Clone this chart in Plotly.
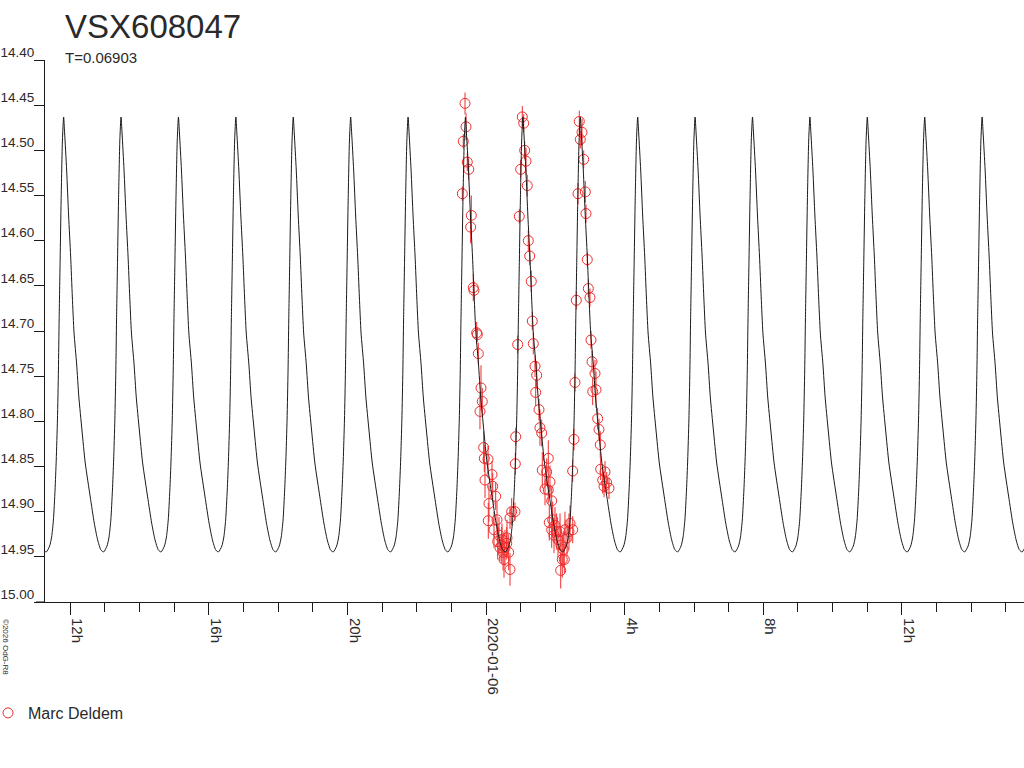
import pandas as pd
import plotly.graph_objects as go

# ---------------- data ----------------
star_name = "VSX608047"
period_days = 0.06903
# epoch of a maximum of the model curve
epoch_max = "2020-01-06 04:22:30"

# model light-curve template: phase (relative to maximum) and magnitude
tmpl_phase = [-0.3031, -0.2439, -0.2091, -0.1777, -0.1498, -0.1289, -0.1080, -0.0906,
              -0.0784, -0.0610, -0.0436, -0.0209, 0.0,
              0.0174, 0.0523, 0.0871, 0.1220, 0.1516, 0.1812, 0.2265, 0.2648,
              0.3188, 0.3763, 0.4634, 0.5331, 0.5923, 0.6498]
tmpl_mag = [14.9446, 14.9380, 14.9280, 14.9092, 14.8760, 14.8428, 14.7985, 14.7431,
            14.6878, 14.6214, 14.5550, 14.4886, 14.4631,
            14.4808, 14.5218, 14.5727, 14.6170, 14.6623, 14.7022, 14.7365, 14.7730,
            14.8096, 14.8461, 14.8837, 14.9125, 14.9313, 14.9424]
cycles = list(range(-11, 9))

# observations (Marc Deldem): minutes after 2020-01-06 00:00, magnitude, error
obs_minutes = [-36.5, -34.8, -39.5, -32.6, -30.1, -41.2, -25.6, -26.7, -22.2, -21.0,
               -16.3, -15.2, -13.5, -8.8, -6.6, -10.6, -4.2, -3.1, 3.3, -1.9,
               10.2, 11.4, 16.6, 5.0, 3.8, 13.7, 20.1, 27.0, 35.7, 39.1,
               41.4, 44.3, 50.0, 41.4, 51.3, 50.6, 54.7, 18.9, 22.3, 27.5,
               29.3, 32.7, 36.2, 24.1, 31.0,
               62.7, 65.1, 66.8, 69.1, 59.9, 71.3, 57.5, 73.1, 75.5, 78.3,
               80.0, 81.7, 84.7, 87.6, 85.9, 91.6, 93.3, 96.3, 107.7, 97.3,
               104.9, 110.6, 102.0, 107.7, 113.6, 109.4, 115.3, 119.3, 113.6, 122.2,
               128.0, 136.6, 145.3, 150.0, 133.7, 131.9, 135.4, 129.2, 124.5, 140.1,
               117.6, 129.7, 143.5,
               153.9, 152.2, 149.9, 156.2, 159.1,
               161.4, 166.1, 163.1, 169.0, 171.8, 173.0, 175.2, 177.0, 179.9, 181.6,
               183.4, 188.6, 190.3, 184.6, 193.2, 195.5, 197.7, 198.4, 205.9, 201.9,
               208.8, 212.8, 204.2]
obs_mag = [14.448, 14.474, 14.490, 14.513, 14.521, 14.548, 14.572, 14.585, 14.652, 14.655,
           14.702, 14.704, 14.725, 14.763, 14.778, 14.789, 14.829, 14.841, 14.842, 14.865,
           14.859, 14.872, 14.883, 14.891, 14.910, 14.920, 14.933, 14.937, 14.935, 14.945,
           14.964, 14.900, 14.900, 14.907, 14.817, 14.847, 14.715, 14.909, 14.926, 14.931,
           14.945, 14.940, 14.929, 14.940, 14.953,
           14.463, 14.470, 14.500, 14.512, 14.521, 14.539, 14.573, 14.600, 14.617, 14.645,
           14.689, 14.714, 14.739, 14.749, 14.768, 14.787, 14.807, 14.813, 14.841, 14.854,
           14.856, 14.867, 14.875, 14.876, 14.888, 14.912, 14.909, 14.915, 14.920, 14.922,
           14.922, 14.920, 14.913, 14.920, 14.942, 14.953, 14.953, 14.965, 14.931, 14.929,
           14.926, 14.937, 14.922,
           14.757, 14.820, 14.855, 14.666, 14.548,
           14.468, 14.480, 14.488, 14.510, 14.546, 14.570, 14.621, 14.653, 14.663, 14.710,
           14.734, 14.747, 14.765, 14.767, 14.797, 14.809, 14.826, 14.853, 14.856, 14.865,
           14.868, 14.874, 14.872]
obs_err = [0.012, 0.015, 0.008, 0.010, 0.012, 0.008, 0.022, 0.018, 0.015, 0.010,
           0.012, 0.008, 0.012, 0.025, 0.015, 0.020, 0.018, 0.015, 0.015, 0.020,
           0.015, 0.015, 0.015, 0.020, 0.020, 0.020, 0.020, 0.020, 0.018, 0.020,
           0.018, 0.015, 0.010, 0.012, 0.010, 0.012, 0.010, 0.020, 0.020, 0.018,
           0.020, 0.020, 0.020, 0.015, 0.020,
           0.012, 0.010, 0.010, 0.015, 0.010, 0.012, 0.008, 0.012, 0.010, 0.012,
           0.010, 0.012, 0.012, 0.015, 0.015, 0.012, 0.020, 0.015, 0.020, 0.020,
           0.015, 0.018, 0.018, 0.015, 0.015, 0.020, 0.020, 0.020, 0.020, 0.020,
           0.020, 0.020, 0.020, 0.015, 0.020, 0.020, 0.015, 0.020, 0.020, 0.020,
           0.020, 0.020, 0.020,
           0.010, 0.012, 0.012, 0.010, 0.012,
           0.012, 0.015, 0.010, 0.010, 0.012, 0.010, 0.008, 0.010, 0.010, 0.010,
           0.012, 0.015, 0.020, 0.015, 0.012, 0.012, 0.015, 0.012, 0.012, 0.015,
           0.012, 0.012, 0.012]

tick_vals = ["2020-01-05 12:00", "2020-01-05 16:00", "2020-01-05 20:00", "2020-01-06 00:00",
             "2020-01-06 04:00", "2020-01-06 08:00", "2020-01-06 12:00"]
tick_text = ["12h", "16h", "20h", "2020-01-06", "4h", "8h", "12h"]
y_tick_vals = [14.40, 14.45, 14.50, 14.55, 14.60, 14.65, 14.70, 14.75, 14.80, 14.85, 14.90, 14.95, 15.00]
x_range = ["2020-01-05 11:16:12", "2020-01-06 15:31:26"]
y_range = [15.00, 14.40]

# ---------------- build ----------------
t0 = pd.Timestamp(epoch_max)
per = pd.Timedelta(days=period_days)
model_t, model_m = [], []
for n in cycles:
    for p, m in zip(tmpl_phase, tmpl_mag):
        model_t.append(t0 + (n + p) * per)
        model_m.append(m)

obs_t = pd.Timestamp("2020-01-06") + pd.to_timedelta(obs_minutes, unit="m")

RED = "#f02c2c"
FONT = "Liberation Sans, Arial, sans-serif"
TXT = "#2a2a2a"

fig = go.Figure()
fig.add_trace(go.Scatter(
    x=obs_t, y=obs_mag, mode="markers", name="Marc Deldem",
    marker=dict(symbol="circle-open", size=10, color=RED, line=dict(width=1, color=RED)),
    error_y=dict(type="data", array=obs_err, color=RED, thickness=1, width=0),
))
fig.add_trace(go.Scatter(
    x=model_t, y=model_m, mode="lines", showlegend=False,
    line=dict(color="#1a1a1a", width=1, shape="spline", smoothing=0.6),
    hoverinfo="skip",
))

fig.update_layout(
    width=1024, height=768,
    margin=dict(l=45, r=0, t=60, b=166, autoexpand=False),
    paper_bgcolor="white", plot_bgcolor="white",
    font=dict(family=FONT, color=TXT, size=15),
    showlegend=True,
    legend=dict(x=-0.0582, y=-0.2048, xanchor="left", yanchor="middle",
                font=dict(size=16, family=FONT, color=TXT),
                bgcolor="rgba(0,0,0,0)", itemwidth=30),
    xaxis=dict(
        type="date", range=x_range, tickmode="array", tickvals=tick_vals, ticktext=tick_text,
        tickangle=90, ticks="outside", ticklen=12, tickwidth=1, tickcolor="#1a1a1a",
        showline=True, linecolor="#1a1a1a", linewidth=1, showgrid=False, zeroline=False,
        automargin=False,
        tickfont=dict(size=15, family=FONT, color=TXT), ticklabelshift=7,
        minor=dict(ticks="outside", ticklen=9, tickwidth=1, tickcolor="#1a1a1a",
                   dtick=3600000, tick0="2020-01-05 00:00", showgrid=False),
    ),
    yaxis=dict(
        range=y_range, tickmode="array", tickvals=y_tick_vals,
        ticktext=[f"{v:.2f}" for v in y_tick_vals],
        ticks="outside", ticklen=10, tickwidth=1, tickcolor="#1a1a1a",
        showline=True, linecolor="#1a1a1a", linewidth=1, showgrid=False, zeroline=False,
        automargin=False,
        tickfont=dict(size=13.5, family=FONT, color=TXT), ticklabelshift=8, ticklabelstandoff=-3,
    ),
    annotations=[
        dict(text=star_name, xref="paper", yref="paper", x=0.0184, y=1.062,
             xanchor="left", yanchor="middle", showarrow=False,
             font=dict(size=33, family=FONT, color=TXT)),
        dict(text="T=0.06903", xref="paper", yref="paper", x=0.0184, y=1.0046,
             xanchor="left", yanchor="middle", showarrow=False,
             font=dict(size=15, family=FONT, color=TXT)),
        dict(text="©2026 OdG-R8", xref="paper", yref="paper", x=-0.0409, y=-0.083,
             xanchor="center", yanchor="middle", showarrow=False, textangle=90,
             font=dict(size=8, family=FONT, color=TXT)),
    ],
    shapes=[
        dict(type="line", xref="paper", yref="paper", x0=-0.0092, x1=0, y0=0, y1=0,
             line=dict(color="#1a1a1a", width=1)),
    ],
)

fig.write_html("out.html", config={"displayModeBar": False},
               post_script="document.body.style.margin='0';document.body.style.padding='0';")
